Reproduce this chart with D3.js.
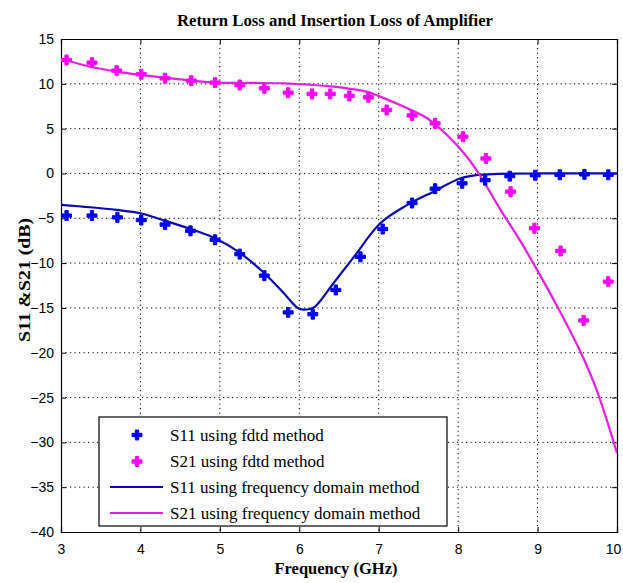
<!DOCTYPE html>
<html><head><meta charset="utf-8">
<script src="https://cdn.jsdelivr.net/npm/d3@7"></script>
<style>body{margin:0;background:#fff}svg{display:block}</style>
</head><body>
<svg id="chart" width="623" height="583"></svg>
<script>
// ---- data ----
const xTicks = [3, 4, 5, 6, 7, 8, 9, 10];
const yTicks = [15, 10, 5, 0, -5, -10, -15, -20, -25, -30, -35, -40];

const s11FdtdX = [3.07, 3.39, 3.71, 4.01, 4.31, 4.63, 4.94, 5.25, 5.56, 5.86, 6.17, 6.46, 6.77, 7.05, 7.42, 7.71, 8.05, 8.34, 8.65, 8.97, 9.28, 9.59, 9.89];
const s11FdtdY = [-4.7, -4.7, -4.9, -5.2, -5.7, -6.4, -7.4, -9.0, -11.4, -15.5, -15.7, -13.0, -9.3, -6.2, -3.3, -1.7, -1.1, -0.75, -0.3, -0.2, -0.15, -0.1, -0.15];

const s21FdtdX = [3.07, 3.39, 3.70, 4.01, 4.31, 4.64, 4.94, 5.25, 5.56, 5.86, 6.16, 6.39, 6.63, 6.87, 7.10, 7.42, 7.71, 8.06, 8.35, 8.66, 8.96, 9.29, 9.58, 9.89];
const s21FdtdY = [12.66, 12.36, 11.47, 11.07, 10.62, 10.35, 10.13, 9.87, 9.5, 9.01, 8.87, 8.87, 8.65, 8.5, 7.08, 6.47, 5.58, 4.1, 1.67, -2.03, -6.11, -8.65, -16.4, -12.07];

const s11FreqX = [3.0, 3.37, 3.7, 4.0, 4.31, 4.6, 4.94, 5.25, 5.56, 5.8, 6.0, 6.12, 6.2, 6.43, 6.69, 7.02, 7.36, 7.69, 8.03, 8.24, 8.5, 9.0, 9.5, 10.0];
const s11FreqY = [-3.5, -3.77, -4.07, -4.44, -5.27, -6.1, -7.23, -8.84, -11.13, -13.3, -15.1, -15.15, -14.85, -12.25, -9.28, -5.56, -3.51, -2.03, -0.54, -0.17, -0.05, 0, 0, 0];

const s21FreqX = [3.0, 3.37, 3.7, 4.0, 4.5, 4.96, 5.4, 5.8, 6.18, 6.43, 6.6, 6.85, 7.02, 7.36, 7.61, 7.86, 8.11, 8.28, 8.53, 8.78, 8.99, 9.24, 9.54, 9.75, 10.0];
const s21FreqY = [12.8, 11.9, 11.36, 11.0, 10.5, 10.13, 10.1, 10.06, 9.87, 9.68, 9.5, 9.13, 8.57, 7.27, 6.16, 4.29, 1.87, -0.3, -4.0, -7.5, -10.7, -14.7, -19.9, -24.3, -31.2];

const legendLabels = ["S11 using fdtd method", "S21 using fdtd method",
  "S11 using frequency domain method", "S21 using frequency domain method"];

const titleText = "Return Loss and Insertion Loss of Amplifier";
const xLabelText = "Frequency (GHz)";
const yLabelText = "S11 &S21 (dB)";

// ---- styles ----
const blueMarker = "#0000f0", blueLine = "#0a0ab0";
const magMarker = "#ff00ff", magLine = "#e51fe0";

// ---- layout ----
const svg = d3.select("#chart");
const L = 61, T = 39, R = 617, B = 532;
const x = d3.scaleLinear().domain([3, 10]).range([L, R]);
const y = d3.scaleLinear().domain([-40, 15]).range([B, T]);

// grid
const g = svg.append("g");
g.selectAll(".gx").data(xTicks.slice(1, -1)).join("line")
  .attr("x1", d => x(d)).attr("x2", d => x(d)).attr("y1", T).attr("y2", B)
  .attr("stroke", "#000").attr("stroke-width", 1).attr("stroke-dasharray", "1.2,3.3");
g.selectAll(".gy").data(yTicks.slice(1, -1)).join("line")
  .attr("y1", d => y(d)).attr("y2", d => y(d)).attr("x1", L).attr("x2", R)
  .attr("stroke", "#000").attr("stroke-width", 1).attr("stroke-dasharray", "1.2,3.3");

// axes (ticks inward, box)
const tickFont = "'Liberation Sans', Arial, sans-serif";
const axB = svg.append("g").attr("transform", `translate(0,${B})`)
  .call(d3.axisBottom(x).tickValues(xTicks).tickSize(-5).tickPadding(12).tickFormat(d3.format("d")));
const axT = svg.append("g").attr("transform", `translate(0,${T})`)
  .call(d3.axisTop(x).tickValues(xTicks).tickSize(-5).tickFormat(""));
const axL = svg.append("g").attr("transform", `translate(${L},0)`)
  .call(d3.axisLeft(y).tickValues(yTicks).tickSize(-5).tickPadding(7).tickFormat(d3.format("d")));
const axR = svg.append("g").attr("transform", `translate(${R},0)`)
  .call(d3.axisRight(y).tickValues(yTicks).tickSize(-5).tickFormat(""));
[axB, axT, axL, axR].forEach(a => {
  a.selectAll("path").attr("stroke", "#000").attr("stroke-width", 1.2);
  a.selectAll("line").attr("stroke", "#000");
  a.selectAll("text").attr("font-family", tickFont).attr("font-size", 14).attr("fill", "#000");
});
// keep the last x tick label inside the page
axB.selectAll(".tick text").filter(d => d === 10).attr("dx", -4);

// lines
const line = d3.line().x(d => x(d[0])).y(d => y(d[1])).curve(d3.curveCatmullRom.alpha(0.5));
svg.append("clipPath").attr("id", "clip").append("rect")
  .attr("x", L).attr("y", T).attr("width", R - L).attr("height", B - T);
const plot = svg.append("g").attr("clip-path", "url(#clip)");
plot.append("path").datum(d3.zip(s11FreqX, s11FreqY)).attr("d", line)
  .attr("fill", "none").attr("stroke", blueLine).attr("stroke-width", 2.2);
plot.append("path").datum(d3.zip(s21FreqX, s21FreqY)).attr("d", line)
  .attr("fill", "none").attr("stroke", magLine).attr("stroke-width", 2.2);

// markers
const sym = d3.symbol().type(d3.symbolCross).size(55);
svg.append("g").selectAll("path").data(d3.zip(s11FdtdX, s11FdtdY)).join("path")
  .attr("d", sym).attr("transform", d => `translate(${x(d[0])},${y(d[1])})`)
  .attr("fill", blueMarker).attr("stroke", blueMarker).attr("stroke-width", 1).attr("stroke-linejoin", "round");
svg.append("g").selectAll("path").data(d3.zip(s21FdtdX, s21FdtdY)).join("path")
  .attr("d", sym).attr("transform", d => `translate(${x(d[0])},${y(d[1])})`)
  .attr("fill", magMarker).attr("stroke", magMarker).attr("stroke-width", 1).attr("stroke-linejoin", "round");

// legend
const serif = "'Liberation Serif', 'Times New Roman', serif";
const lg = svg.append("g");
lg.append("rect").attr("x", 99).attr("y", 417).attr("width", 348).attr("height", 109)
  .attr("fill", "#fff").attr("stroke", "#000").attr("stroke-width", 1.2);
const rowsY = [435, 461.5, 487, 513];
const kinds = [["m", blueMarker], ["m", magMarker], ["l", blueLine], ["l", magLine]];
legendLabels.forEach((lab, i) => {
  const [k, c] = kinds[i];
  if (k === "m") {
    lg.append("path").attr("d", sym).attr("transform", `translate(137,${rowsY[i]})`)
      .attr("fill", c).attr("stroke", c).attr("stroke-width", 1).attr("stroke-linejoin", "round");
  } else {
    lg.append("line").attr("x1", 110).attr("x2", 163).attr("y1", rowsY[i]).attr("y2", rowsY[i])
      .attr("stroke", c).attr("stroke-width", 2.2);
  }
  lg.append("text").attr("x", 170).attr("y", rowsY[i]).attr("dy", "0.35em")
    .attr("font-family", serif).attr("font-size", 17).text(lab);
});

// titles
svg.append("text").attr("x", 335).attr("y", 26).attr("text-anchor", "middle")
  .attr("font-family", serif).attr("font-weight", "bold").attr("font-size", 17)
  .attr("textLength", 316).attr("lengthAdjust", "spacingAndGlyphs").text(titleText);
svg.append("text").attr("x", 336).attr("y", 574).attr("text-anchor", "middle")
  .attr("font-family", serif).attr("font-weight", "bold").attr("font-size", 16.5)
  .attr("textLength", 123).attr("lengthAdjust", "spacingAndGlyphs").text(xLabelText);
svg.append("text").attr("transform", `translate(30,280) rotate(-90)`).attr("text-anchor", "middle")
  .attr("font-family", serif).attr("font-weight", "bold").attr("font-size", 16.5)
  .attr("textLength", 124).attr("lengthAdjust", "spacingAndGlyphs").text(yLabelText);
</script>
</body></html>
